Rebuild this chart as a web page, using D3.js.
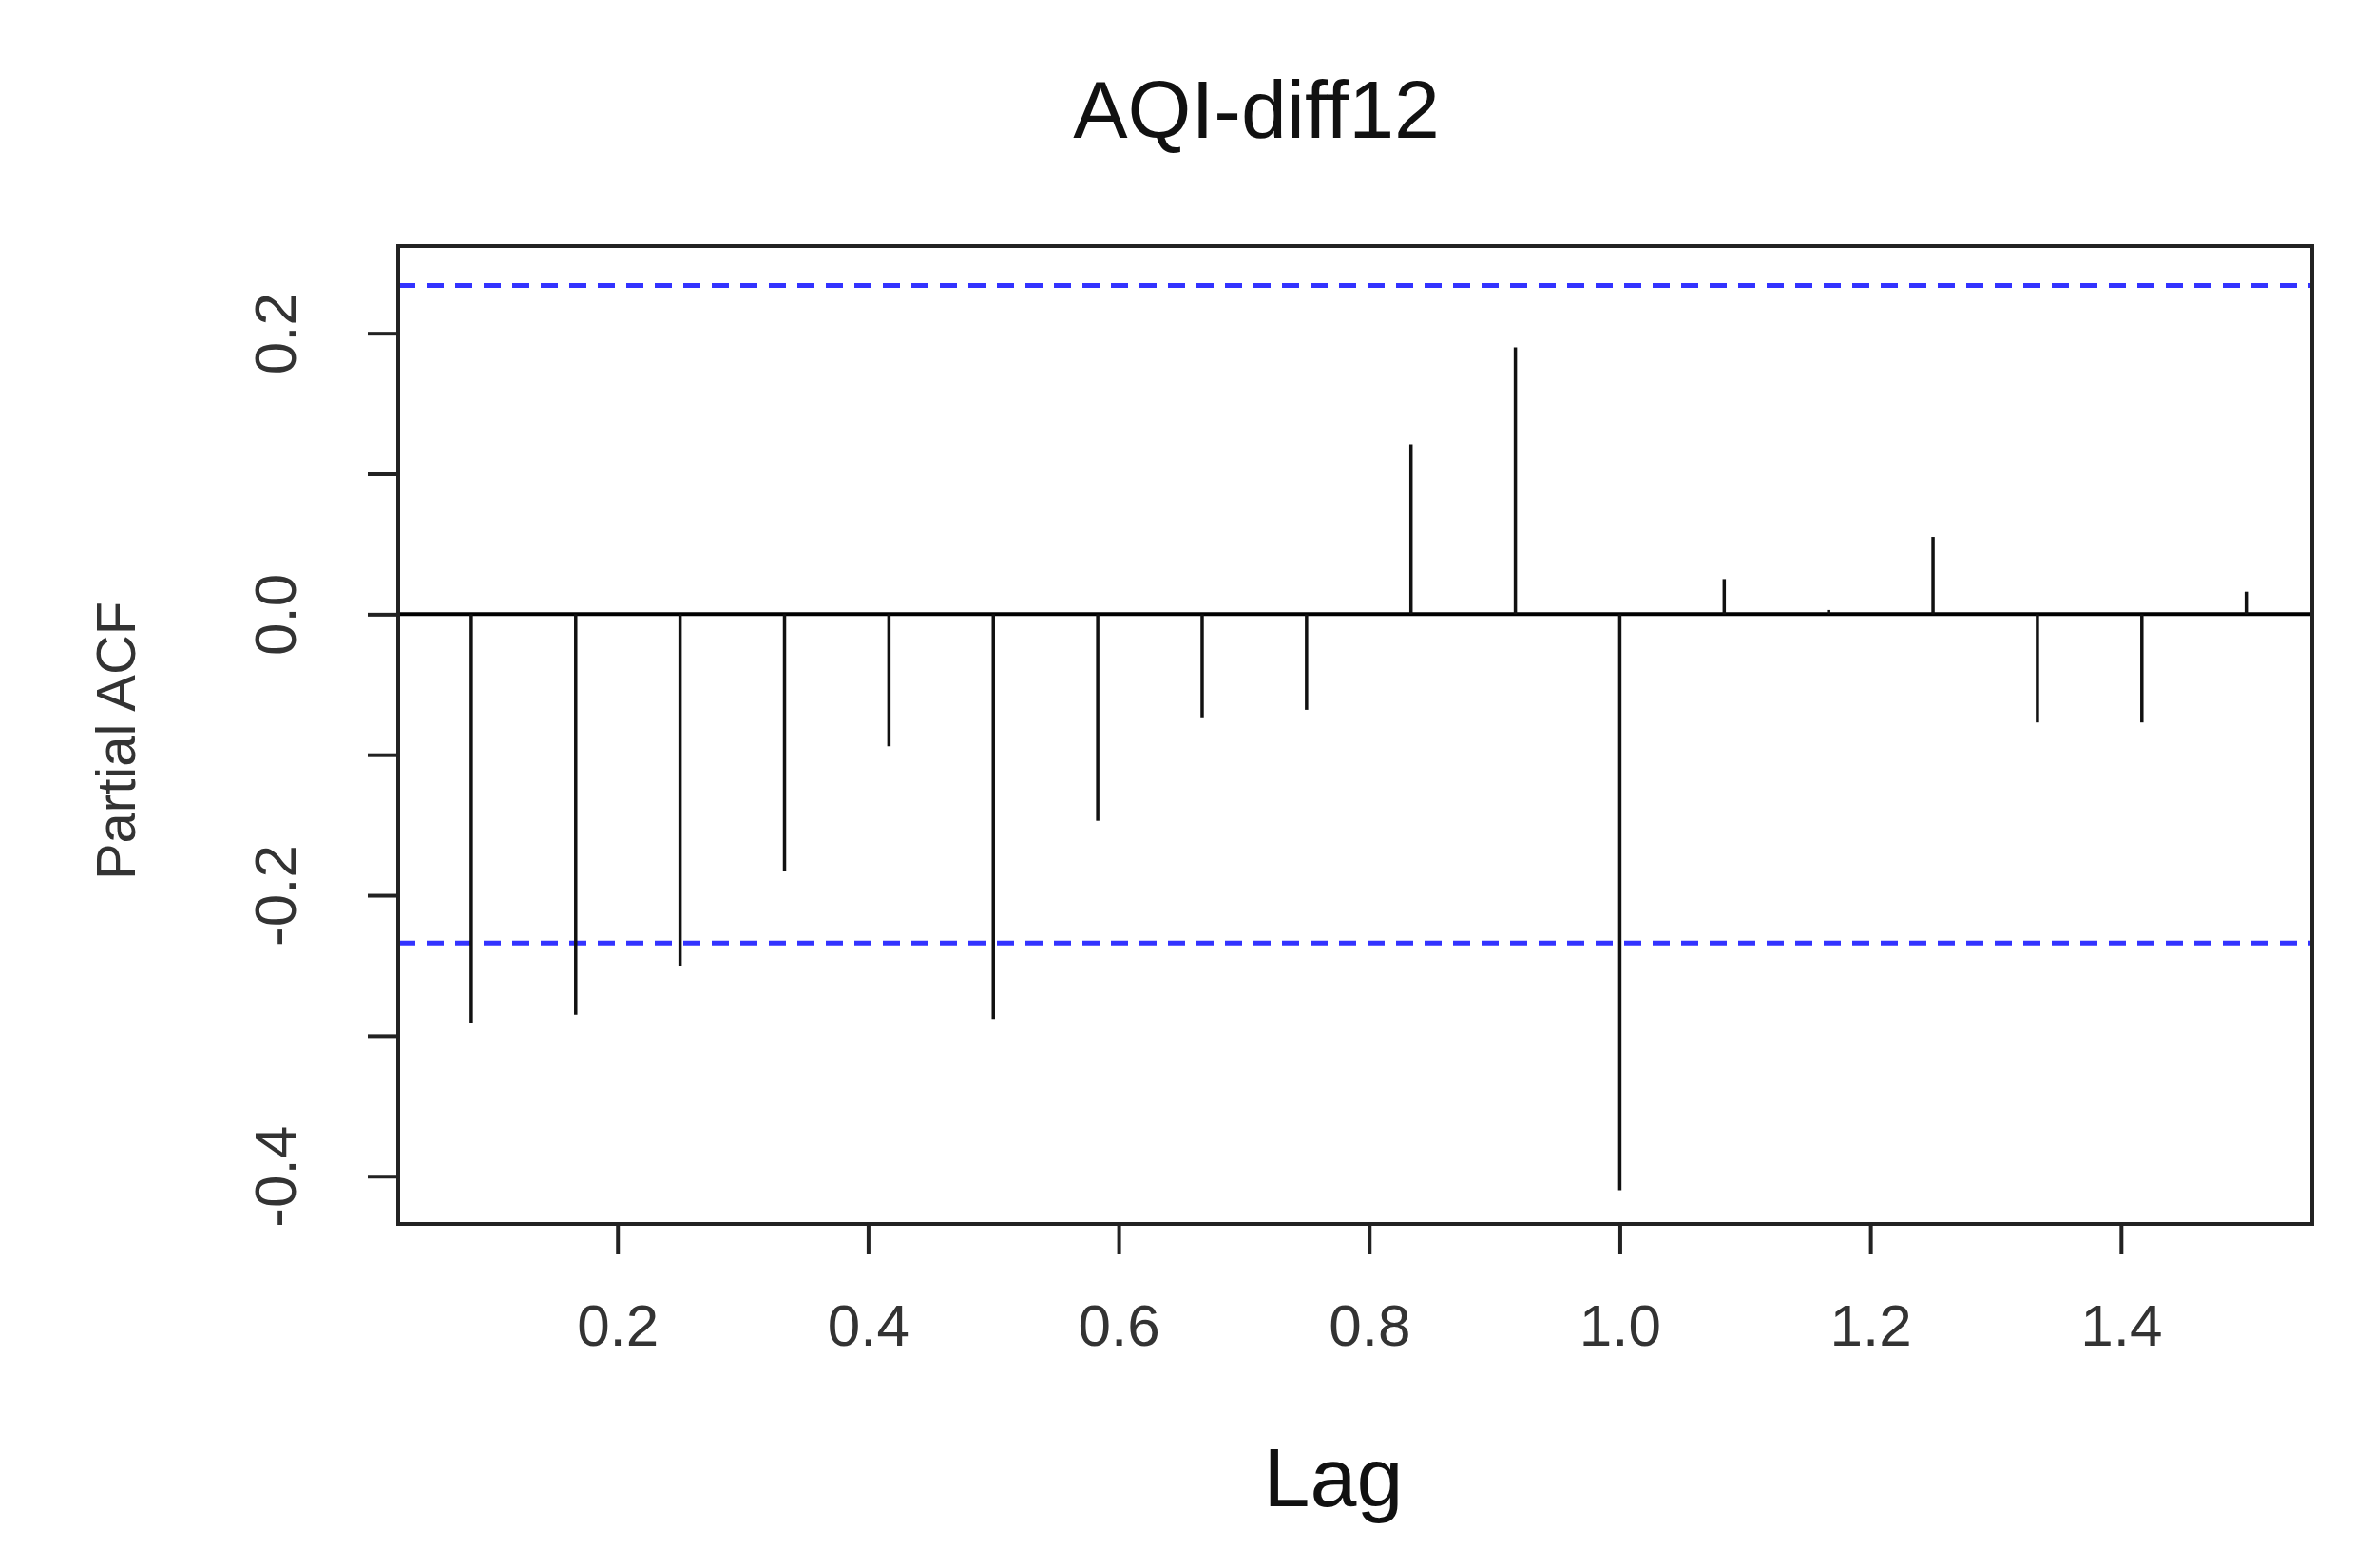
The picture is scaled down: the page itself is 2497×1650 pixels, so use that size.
<!DOCTYPE html>
<html>
<head>
<meta charset="utf-8">
<script src="https://cdn.jsdelivr.net/npm/d3@7"></script>
<style>
  body { margin: 0; background: #fff; }
  text { font-family: "Liberation Sans", Arial, sans-serif; }
</style>
</head>
<body>
<div id="chart"></div>
<script>
// data
var lags = d3.range(1, 19).map(function(k) { return k / 12; });
var pacf = [-0.291, -0.285, -0.250, -0.183, -0.094, -0.288, -0.147, -0.074, -0.068,
            0.121, 0.190, -0.410, 0.025, 0.003, 0.055, -0.077, -0.077, 0.016];
var ciBound = 0.234;
var xTicks = [0.2, 0.4, 0.6, 0.8, 1.0, 1.2, 1.4];
var yTicks = [-0.4, -0.3, -0.2, -0.1, 0.0, 0.1, 0.2];
var yLabelled = [-0.4, -0.2, 0.0, 0.2];

var W = 2497, H = 1650;
var margin = {top: 259, right: 52, bottom: 362, left: 419},
    width = W - margin.left - margin.right,
    height = H - margin.top - margin.bottom;

var fmt = function(d) { return d3.format(".1f")(d).replace("\u2212", "-"); };

var svg = d3.select("#chart").append("svg")
    .attr("width", W)
    .attr("height", H);

var g = svg.append("g")
    .attr("transform", "translate(" + margin.left + "," + margin.top + ")");

var x = d3.scaleLinear().domain([0.025, 1.5526]).range([0, width - 12]);
var y = d3.scaleLinear().domain([-0.434, 0.262]).range([height, 0]);

// zero line
g.append("line")
    .attr("x1", 0).attr("x2", width - 12)
    .attr("y1", y(0)).attr("y2", y(0))
    .attr("stroke", "#000").attr("stroke-width", 4);

// confidence bounds
[ciBound, -ciBound].forEach(function(v) {
  g.append("line")
      .attr("x1", 0).attr("x2", width - 12)
      .attr("y1", y(v)).attr("y2", y(v))
      .attr("stroke", "#3333ff").attr("stroke-width", 5)
      .attr("stroke-dasharray", "18,12");
});

// spikes
g.selectAll(".spike")
    .data(pacf)
  .enter().append("line")
    .attr("class", "spike")
    .attr("x1", function(d, i) { return x(lags[i]); })
    .attr("x2", function(d, i) { return x(lags[i]); })
    .attr("y1", y(0))
    .attr("y2", function(d) { return y(d); })
    .attr("stroke", "#111").attr("stroke-width", 3.5);

// box
g.append("rect")
    .attr("width", width - 12).attr("height", height)
    .attr("fill", "none").attr("stroke", "#222").attr("stroke-width", 4);

// x axis
var xAxis = g.append("g")
    .attr("transform", "translate(0," + height + ")")
    .call(d3.axisBottom(x).tickValues(xTicks).tickFormat(fmt)
      .tickSize(32).tickPadding(52));
xAxis.select(".domain").remove();
xAxis.selectAll("line").attr("stroke", "#222").attr("stroke-width", 4);
xAxis.selectAll("text").attr("fill", "#333").style("font-size", "62px")
    .style("font-family", "Liberation Sans, Arial, sans-serif");

// y axis
var yAxis = g.append("g")
    .call(d3.axisLeft(y).tickValues(yTicks).tickSize(32)
      .tickFormat(function(d) {
        return yLabelled.some(function(v) { return Math.abs(v - d) < 1e-9; }) ? fmt(d) : "";
      }));
yAxis.select(".domain").remove();
yAxis.selectAll("line").attr("stroke", "#222").attr("stroke-width", 4);
yAxis.selectAll("text")
    .attr("fill", "#333").style("font-size", "62px")
    .style("font-family", "Liberation Sans, Arial, sans-serif")
    .attr("text-anchor", "middle")
    .attr("dy", "0")
    .attr("transform", "translate(-124,0) rotate(-90)")
    .attr("x", 0).attr("y", 0)
    .attr("dominant-baseline", "middle");

// title
svg.append("text")
    .attr("x", 1322).attr("y", 145)
    .attr("text-anchor", "middle")
    .style("font-size", "86px")
    .attr("fill", "#111")
    .text("AQI-diff12");

// axis labels
svg.append("text")
    .attr("x", 1403).attr("y", 1585)
    .attr("text-anchor", "middle")
    .style("font-size", "88px")
    .attr("fill", "#111")
    .text("Lag");

svg.append("text")
    .attr("transform", "translate(142," + (y(-0.09) + margin.top) + ") rotate(-90)")
    .attr("text-anchor", "middle")
    .style("font-size", "58px")
    .attr("fill", "#333")
    .text("Partial ACF");
</script>
</body>
</html>
